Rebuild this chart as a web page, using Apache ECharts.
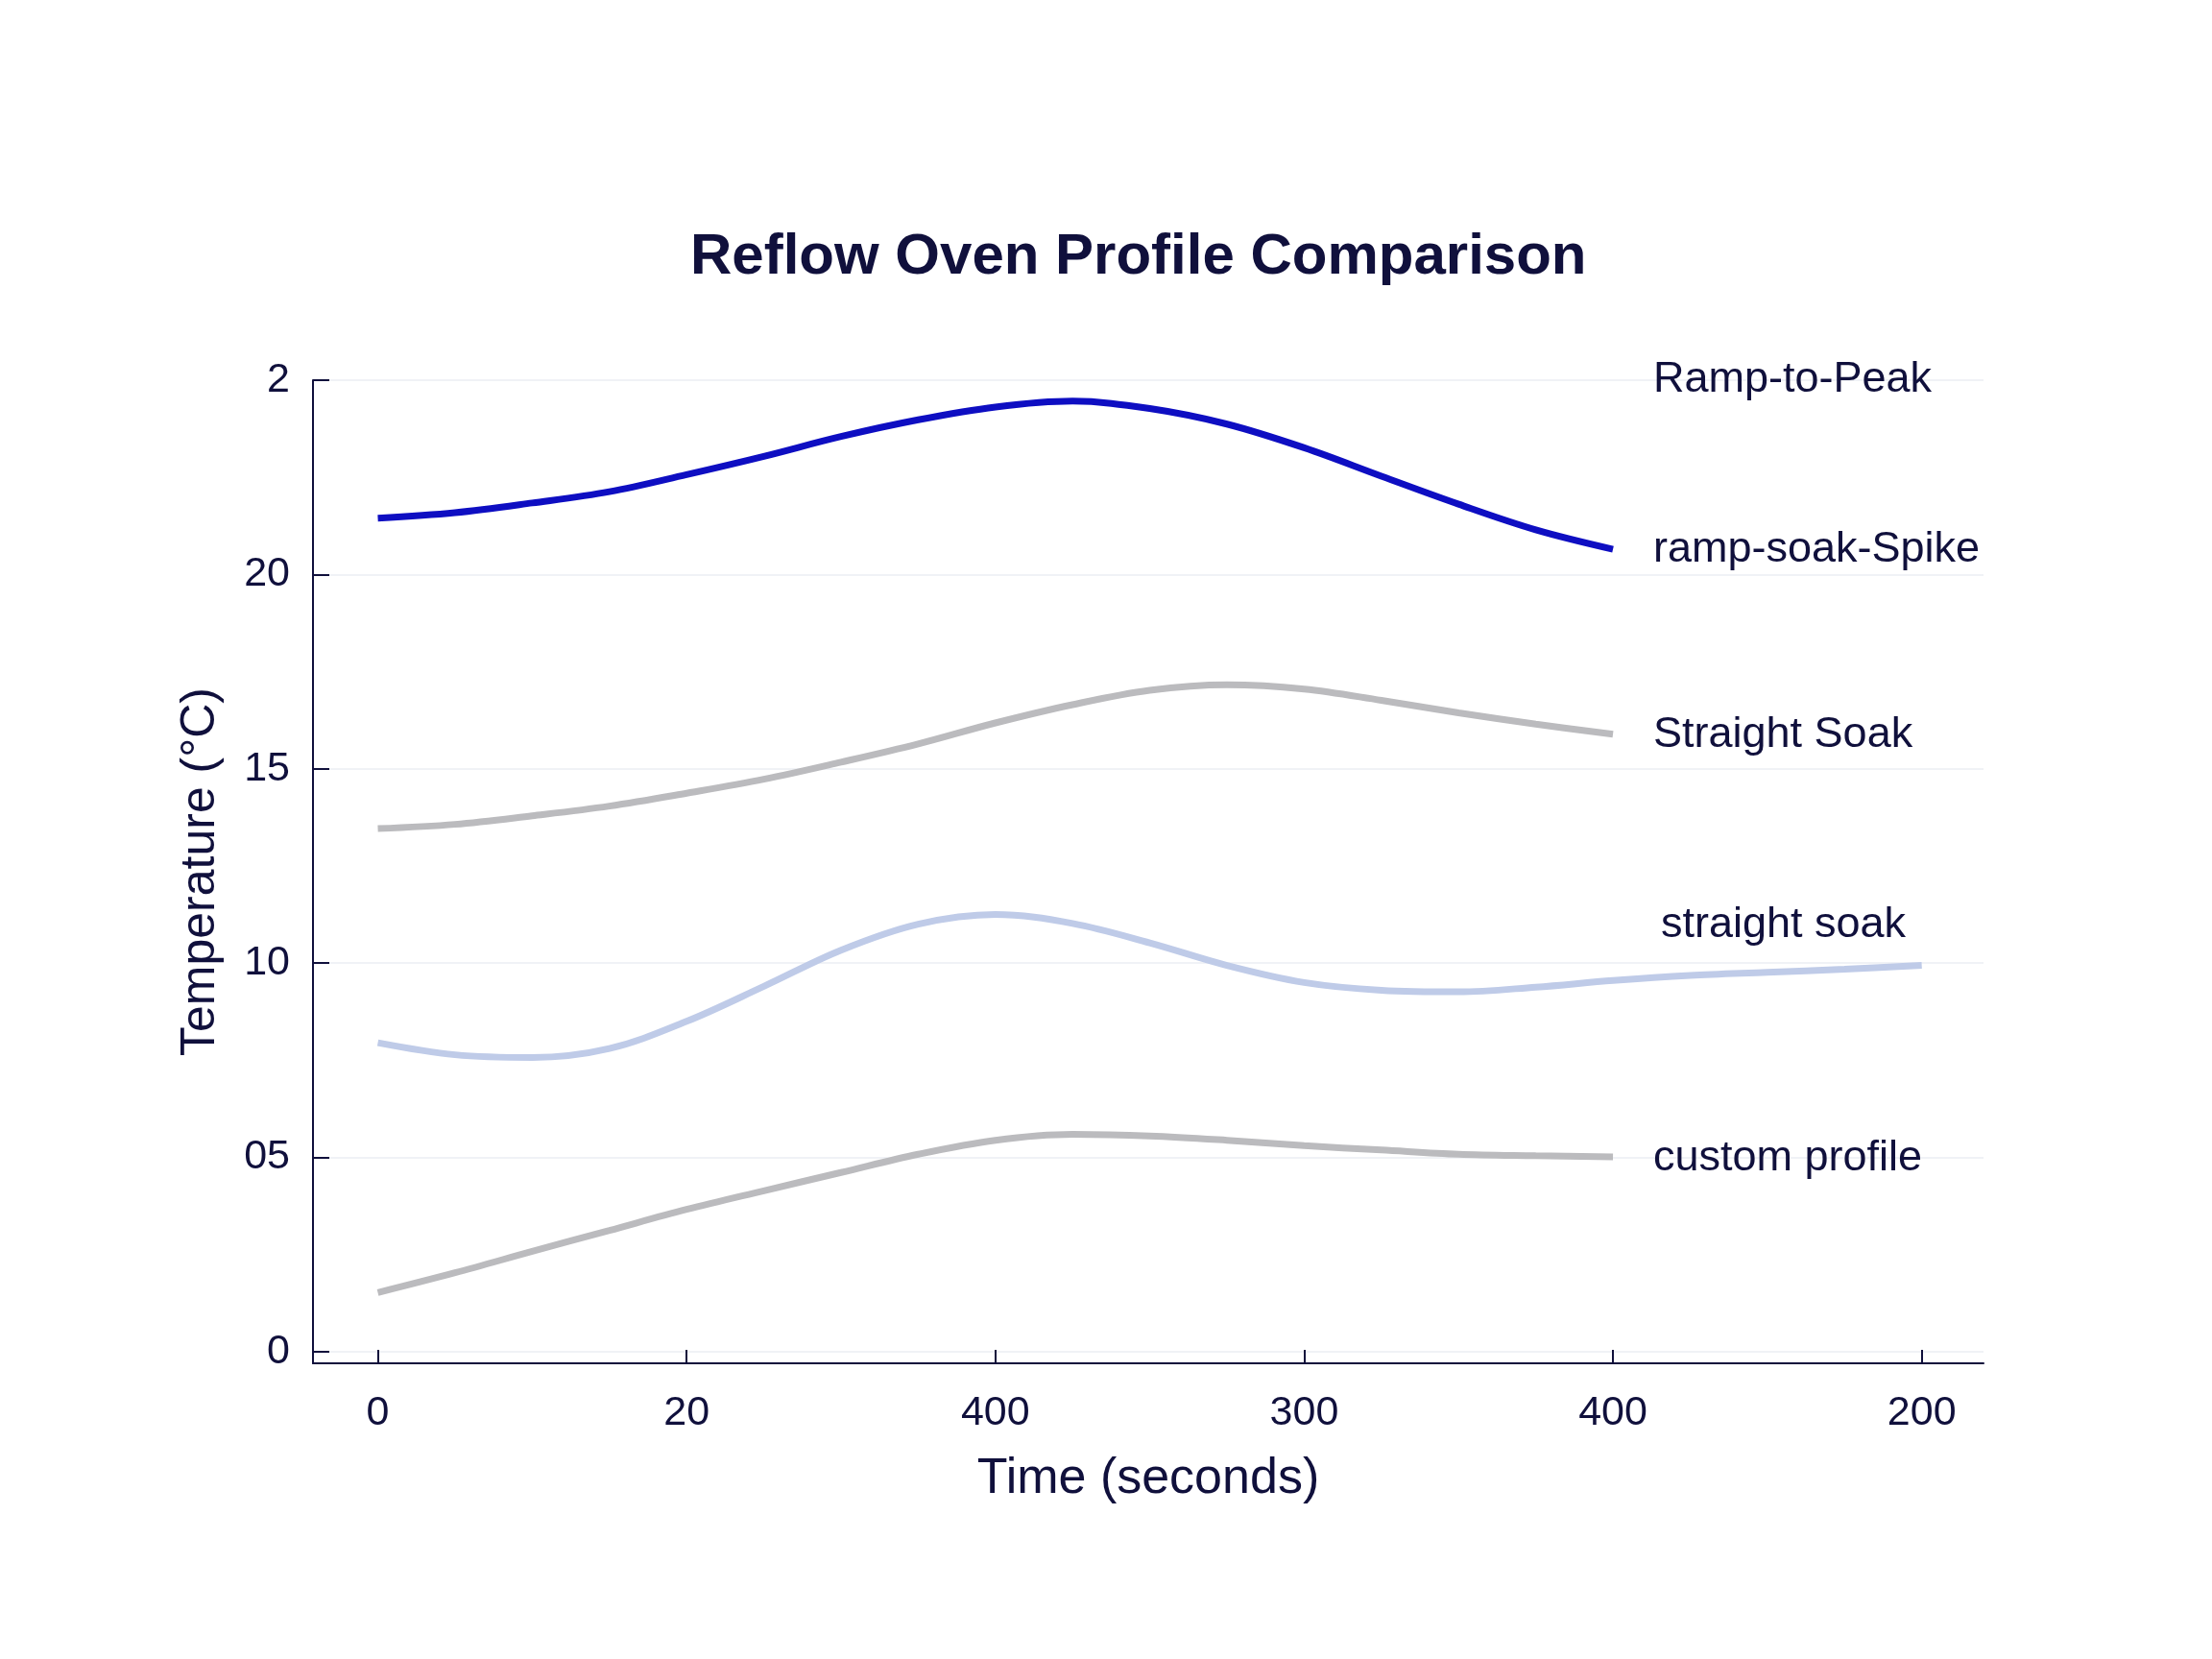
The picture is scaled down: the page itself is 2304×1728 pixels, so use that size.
<!DOCTYPE html>
<html>
<head>
<meta charset="utf-8">
<title>Reflow Oven Profile Comparison</title>
<script src="https://cdn.jsdelivr.net/npm/echarts@6/dist/echarts.min.js"></script>
<style>
  html, body { margin: 0; padding: 0; background: #ffffff; }
  #chart { width: 2304px; height: 1728px; }
</style>
</head>
<body>
<div id="chart"></div>
<script>
// tick labels as printed on the reference
var xLabels = ['0', '20', '400', '300', '400', '200'];
var yLabels = ['0', '05', '10', '15', '20', '2'];
var xTickPos = [0, 1, 2, 3, 4, 5];
var yTickPos = [0, 5, 10, 15, 20, 25];

// sample positions along the time axis (in tick units)
var timeA = [0, 0.25, 0.5, 0.75, 1, 1.25, 1.5, 1.75, 2, 2.25, 2.5, 2.75, 3, 3.25, 3.5, 3.75, 4];
var timeB = [0, 0.25, 0.5, 0.75, 1, 1.25, 1.5, 1.75, 2, 2.25, 2.5, 2.75, 3, 3.25, 3.5, 3.75, 4, 4.25, 4.5, 4.75, 5];

// values
var rampSpike = [21.45, 21.59, 21.84, 22.13, 22.57, 23.04, 23.55, 23.98, 24.31, 24.46, 24.27, 23.87, 23.26, 22.53, 21.81, 21.15, 20.65];
var straightSoakA = [13.46, 13.57, 13.79, 14.04, 14.37, 14.73, 15.17, 15.64, 16.18, 16.65, 17.02, 17.16, 17.05, 16.76, 16.44, 16.15, 15.89];
var straightSoakB = [7.95, 7.64, 7.57, 7.80, 8.50, 9.40, 10.33, 11.00, 11.25, 11.02, 10.52, 9.94, 9.50, 9.30, 9.26, 9.38, 9.55, 9.68, 9.76, 9.84, 9.94];
var customProfile = [1.52, 2.03, 2.58, 3.12, 3.66, 4.14, 4.61, 5.08, 5.44, 5.59, 5.55, 5.44, 5.30, 5.19, 5.08, 5.04, 5.01];

// labels on the right
var labelNames = ['Ramp-to-Peak', 'ramp-soak-Spike', 'Straight Soak', 'straight soak', 'custom profile'];
var labelX = [1722, 1722, 1722, 1730, 1722];
var labelY = [396, 573, 766, 964, 1207];

var ink = '#10103c';
var font = 'Liberation Sans, Arial, sans-serif';

function pair(xs, ys) {
    var out = [];
    for (var i = 0; i < ys.length; i++) out.push([xs[i], ys[i]]);
    return out;
}

var graphics = [];
for (var n = 0; n < labelNames.length; n++) {
    graphics.push({
        type: 'text',
        x: labelX[n],
        y: labelY[n],
        z: 50,
        style: {
            text: labelNames[n],
            fill: ink,
            fontSize: 45,
            fontFamily: font,
            verticalAlign: 'middle'
        }
    });
}

var myChart = echarts.init(document.getElementById('chart'));
var option = {
    backgroundColor: '#ffffff',
    animation: false,
    title: {
        text: 'Reflow Oven Profile Comparison',
        left: 714,
        top: 233,
        textStyle: { color: ink, fontSize: 60, fontWeight: 'bold', fontFamily: font }
    },
    grid: { left: 326, top: 396, width: 1740, height: 1024, containLabel: false },
    xAxis: {
        type: 'value',
        min: -0.21,
        max: 5.2,
        name: 'Time (seconds)',
        nameLocation: 'middle',
        nameGap: 95,
        nameTextStyle: { color: ink, fontSize: 52, fontFamily: font },
        axisLine: { show: true, onZero: false, lineStyle: { color: ink, width: 2 } },
        axisTick: { show: true, inside: true, length: 14, customValues: xTickPos, lineStyle: { color: ink, width: 2 } },
        axisLabel: {
            customValues: xTickPos,
            margin: 31,
            color: ink,
            fontSize: 43,
            fontFamily: font,
            formatter: function (v) { return xLabels[Math.round(v)]; }
        },
        splitLine: { show: false }
    },
    yAxis: {
        type: 'value',
        min: -0.3,
        max: 25,
        name: 'Temperature (°C)',
        nameLocation: 'middle',
        nameGap: 92,
        nameTextStyle: { color: ink, fontSize: 50, fontFamily: font },
        axisLine: { show: true, onZero: false, lineStyle: { color: ink, width: 2 } },
        axisTick: { show: true, inside: true, length: 17, customValues: yTickPos, lineStyle: { color: ink, width: 2 } },
        axisLabel: {
            customValues: yTickPos,
            margin: 24,
            color: ink,
            fontSize: 43,
            fontFamily: font,
            formatter: function (v) { return yLabels[Math.round(v / 5)]; }
        },
        splitLine: { show: true, lineStyle: { color: '#f0f2f6', width: 2 } }
    },
    graphic: graphics,
    series: [
        {
            name: 'ramp-soak-Spike',
            type: 'line',
            data: pair(timeA, rampSpike),
            smooth: 0.35,
            symbol: 'none',
            lineStyle: { color: '#0e0ec2', width: 7 }
        },
        {
            name: 'Straight Soak',
            type: 'line',
            data: pair(timeA, straightSoakA),
            smooth: 0.35,
            symbol: 'none',
            lineStyle: { color: '#bbbbbe', width: 7 }
        },
        {
            name: 'straight soak',
            type: 'line',
            data: pair(timeB, straightSoakB),
            smooth: 0.35,
            symbol: 'none',
            lineStyle: { color: '#bfcbe8', width: 7 }
        },
        {
            name: 'custom profile',
            type: 'line',
            data: pair(timeA, customProfile),
            smooth: 0.35,
            symbol: 'none',
            lineStyle: { color: '#bbbbbe', width: 7 }
        }
    ]
};
myChart.setOption(option);
</script>
</body>
</html>
